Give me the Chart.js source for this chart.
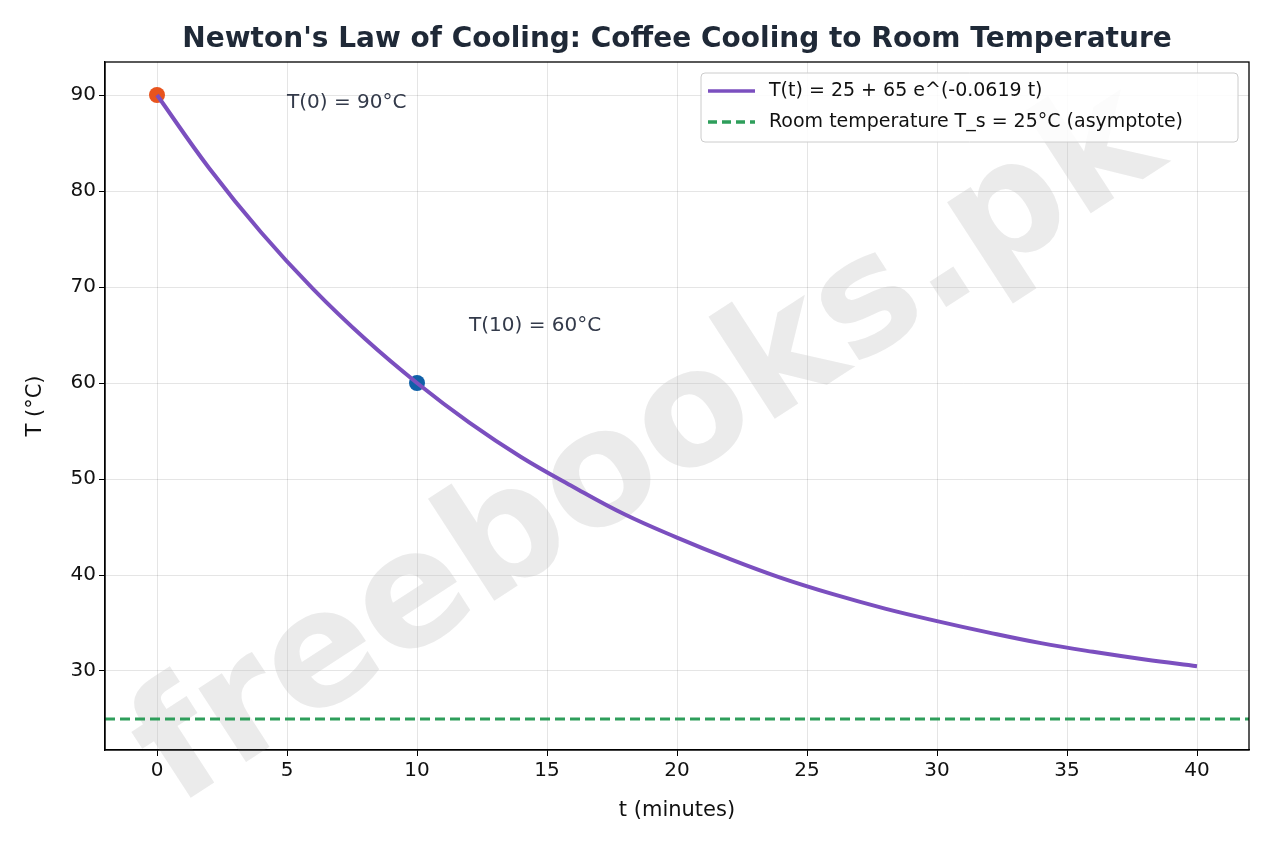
<!DOCTYPE html>
<html>
<head>
<meta charset="utf-8">
<script src="https://cdn.jsdelivr.net/npm/chart.js@4.4.0/dist/chart.umd.min.js"></script>
<style>body{margin:0;background:#fff}</style>
</head>
<body>
<canvas id="c" width="1275" height="850"></canvas>
<script>
// minutes and temperatures
const times = [0, 2, 4, 6, 8, 10, 12, 14, 16, 18, 20, 22, 24, 26, 28, 30, 32, 34, 36, 38, 40];
const temps = [90, 82.4, 75.7, 69.8, 64.6, 60, 55.9, 52.3, 49.2, 46.3, 43.9, 41.7, 39.7, 38.0, 36.5, 35.2, 34.0, 32.9, 32.0, 31.2, 30.5];
const roomT = 25;
const roomX = [-2, 42];
const marks = [{ x: 0, y: 90, color: "#e8541e" }, { x: 10, y: 60, color: "#1060a8" }];
const notes = [{ x: 5, y: 88.6, text: "T(0) = 90°C" }, { x: 12, y: 65.4, text: "T(10) = 60°C" }];
const xTicks = [0, 5, 10, 15, 20, 25, 30, 35, 40];
const yTicks = [30, 40, 50, 60, 70, 80, 90];
const legendItems = [
  { text: "T(t) = 25 + 65 e^(-0.0619 t)", color: "#7b4fbf", dash: [] },
  { text: "Room temperature T_s = 25°C (asymptote)", color: "#2e9e5b", dash: [9, 5] },
];
const FONT = "DejaVu Sans";

const extras = {
  id: "extras",
  beforeDatasetsDraw(chart) {
    const ctx = chart.ctx;
    ctx.save();
    ctx.translate(650, 450);
    ctx.rotate(-33 * Math.PI / 180);
    ctx.font = `bold 160px ${FONT}`;
    ctx.fillStyle = "rgba(190,190,190,0.3)";
    ctx.textAlign = "center";
    ctx.textBaseline = "middle";
    ctx.fillText("freebooks.pk", 0, 0);
    ctx.restore();
  },
  afterDatasetsDraw(chart) {
    const ctx = chart.ctx, xs = chart.scales.x, ys = chart.scales.y, a = chart.chartArea;
    ctx.save();
    ctx.font = `20px ${FONT}`;
    ctx.fillStyle = "#333a4a";
    ctx.textBaseline = "alphabetic";
    notes.forEach(n => ctx.fillText(n.text, xs.getPixelForValue(n.x), ys.getPixelForValue(n.y)));
    // title
    ctx.font = `bold 28px ${FONT}`;
    ctx.fillStyle = "#1f2937";
    ctx.textAlign = "center";
    ctx.textBaseline = "middle";
    ctx.fillText("Newton's Law of Cooling: Coffee Cooling to Room Temperature", (a.left + a.right) / 2, 40);
    // axis titles
    ctx.fillStyle = "#111";
    ctx.font = `21px ${FONT}`;
    ctx.fillText("t (minutes)", (a.left + a.right) / 2, 811);
    ctx.save();
    ctx.translate(36, (a.top + a.bottom) / 2);
    ctx.rotate(-Math.PI / 2);
    ctx.fillText("T (°C)", 0, 0);
    ctx.restore();
    // legend
    ctx.textAlign = "left";
    ctx.fillStyle = "rgba(255,255,255,0.85)";
    ctx.strokeStyle = "#cccccc";
    ctx.lineWidth = 1;
    ctx.beginPath();
    ctx.roundRect(701, 73, 537, 69, 4);
    ctx.fill();
    ctx.stroke();
    ctx.font = `19px ${FONT}`;
    legendItems.forEach((it, i) => {
      const y = 91 + i * 31;
      ctx.strokeStyle = it.color;
      ctx.lineWidth = 3.5;
      ctx.setLineDash(it.dash);
      ctx.beginPath();
      ctx.moveTo(708, y);
      ctx.lineTo(755, y);
      ctx.stroke();
      ctx.setLineDash([]);
      ctx.fillStyle = "#111";
      ctx.textBaseline = "middle";
      ctx.fillText(it.text, 769, y);
    });
    ctx.restore();
  },
};

new Chart(document.getElementById("c"), {
  type: "scatter",
  data: {
    datasets: [
      {
        data: roomX.map(x => ({ x, y: roomT })),
        showLine: true, borderColor: "#2e9e5b", borderWidth: 3, borderDash: [10, 5], pointRadius: 0,
      },
      {
        data: times.map((t, i) => ({ x: t, y: temps[i] })),
        showLine: true, borderColor: "#7b4fbf", borderWidth: 4, tension: 0.4, pointRadius: 0,
      },
      {
        data: marks.map(m => ({ x: m.x, y: m.y })),
        pointBackgroundColor: marks.map(m => m.color), pointBorderWidth: 0, pointRadius: 8,
      },
    ],
  },
  options: {
    responsive: false,
    animation: false,
    layout: { padding: { top: 62, right: 26, left: 0, bottom: 0 } },
    plugins: { legend: { display: false }, tooltip: { enabled: false } },
    scales: {
      x: {
        type: "linear", min: -2, max: 42,
        afterFit: s => { s.height = 100; },
        afterBuildTicks: s => { s.ticks = xTicks.map(v => ({ value: v })); },
        grid: { color: "rgba(0,0,0,0.1)", tickColor: "#000", tickLength: 6 },
        border: { color: "#000", width: 1.3 },
        ticks: { color: "#111", font: { family: FONT, size: 20 } },
      },
      y: {
        min: 21.77, max: 93.44,
        afterFit: s => { s.width = 105; },
        afterBuildTicks: s => { s.ticks = yTicks.map(v => ({ value: v })); },
        grid: { color: "rgba(0,0,0,0.1)", tickColor: "#000", tickLength: 6 },
        border: { color: "#000", width: 1.3 },
        ticks: { color: "#111", font: { family: FONT, size: 20 } },
      },
    },
  },
  plugins: [extras, {
    id: "frame",
    afterDraw(chart) {
      const a = chart.chartArea, ctx = chart.ctx;
      ctx.save();
      ctx.strokeStyle = "#000";
      ctx.lineWidth = 1.3;
      ctx.strokeRect(a.left, a.top, a.right - a.left, a.bottom - a.top);
      ctx.restore();
    },
  }],
});
</script>
</body>
</html>
